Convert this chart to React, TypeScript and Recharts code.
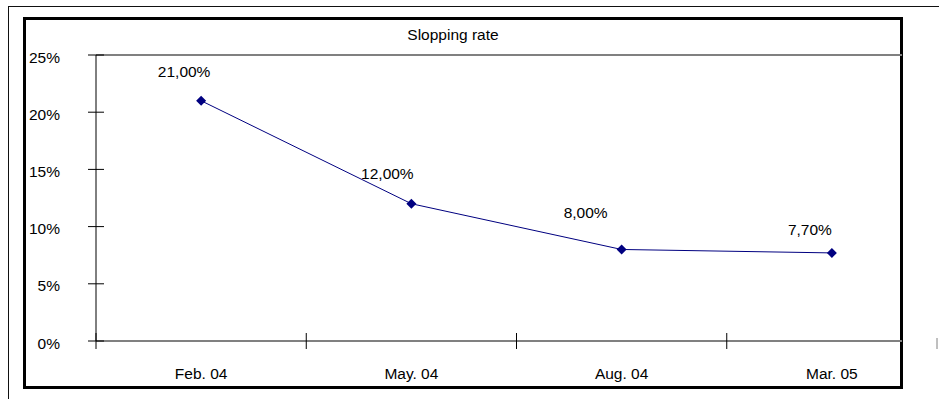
import { LineChart, Line, XAxis, YAxis, ReferenceLine, LabelList } from "recharts";

const categories = ["Feb. 04", "May. 04", "Aug. 04", "Mar. 05"];
const rates = [21, 12, 8, 7.7];
const yTicks = [0, 5, 10, 15, 20, 25];
const xTicks = [-0.5, 0, 0.5, 1, 1.5, 2, 2.5, 3, 3.5];

// label nudges (dx, dy) relative to each point, Excel-style placement
const labelOffsets = [
  [-17, -28],
  [-24, -29],
  [-36, -36],
  [-22, -22],
];

const FONT = "'Liberation Sans', Arial, sans-serif";
const FONT_SIZE = 15.5;
const NAVY = "#000080";

const data = rates.map((rate, idx) => ({ idx, name: categories[idx], rate }));

function formatRate(v: number): string {
  return v.toFixed(2).replace(".", ",") + "%";
}

function Diamond(props: any) {
  const { cx, cy } = props;
  if (cx == null || cy == null) return null;
  const r = 5;
  return (
    <polygon
      points={`${cx},${cy - r} ${cx + r},${cy} ${cx},${cy + r} ${cx - r},${cy}`}
      fill={NAVY}
    />
  );
}

function PointLabel(props: any) {
  const { x, y, value, index } = props;
  const [dx, dy] = labelOffsets[index] || [0, -20];
  return (
    <text
      x={x + dx}
      y={y + dy}
      textAnchor="middle"
      dominantBaseline="middle"
      fontFamily={FONT}
      fontSize={FONT_SIZE}
      fill="#000"
    >
      {formatRate(Number(value))}
    </text>
  );
}

function YTick(props: any) {
  const { x, y, payload } = props;
  return (
    <g>
      <line x1={x - 8} x2={x + 8} y1={y} y2={y} stroke="#000" strokeWidth={1} />
      <text
        x={x - 36}
        y={y + 3.5}
        textAnchor="end"
        dominantBaseline="middle"
        fontFamily={FONT}
        fontSize={FONT_SIZE}
        fill="#000"
      >
        {payload.value}%
      </text>
    </g>
  );
}

function XTick(props: any) {
  const { x, y, payload } = props;
  const v = payload.value;
  if (!Number.isInteger(v)) {
    const outside = v > categories.length - 1;
    return (
      <line
        x1={x}
        x2={x}
        y1={outside ? y - 3 : y - 8}
        y2={y + 8}
        stroke={outside ? "#808080" : "#000"}
        strokeWidth={1}
      />
    );
  }
  return (
    <text
      x={x}
      y={y + 34}
      textAnchor="middle"
      dominantBaseline="middle"
      fontFamily={FONT}
      fontSize={FONT_SIZE}
      fill="#000"
    >
      {categories[v]}
    </text>
  );
}

export default function App() {
  return (
    <div style={{ position: "absolute", left: 0, top: 0, width: 939, height: 399, background: "#fff", overflow: "hidden" }}>
      <div
        style={{
          position: "absolute",
          left: 8,
          top: 6,
          width: 931,
          height: 393,
          borderTop: "1px solid #111",
          borderLeft: "1px solid #111",
        }}
      />
      <div
        style={{
          position: "absolute",
          left: 23,
          top: 17,
          width: 880,
          height: 372,
          boxSizing: "border-box",
          border: "3px solid #000",
        }}
      />
      <div
        style={{
          position: "absolute",
          left: 353,
          top: 26,
          width: 200,
          textAlign: "center",
          fontFamily: FONT,
          fontSize: FONT_SIZE,
          lineHeight: "18px",
          color: "#000",
        }}
      >
        Slopping rate
      </div>
      <div style={{ position: "absolute", left: 0, top: 0 }}>
        <LineChart width={939} height={399} data={data} margin={{ top: 55, right: 37, bottom: 0, left: 0 }}>
          <XAxis
            type="number"
            dataKey="idx"
            domain={[-0.5, 3.3335]}
            allowDataOverflow
            ticks={xTicks}
            interval={0}
            height={58}
            tickSize={0}
            tickMargin={0}
            tickLine={false}
            axisLine={{ stroke: "#808080", strokeWidth: 2 }}
            tick={<XTick />}
          />
          <YAxis
            type="number"
            domain={[0, 25]}
            ticks={yTicks}
            interval={0}
            width={96}
            tickSize={0}
            tickMargin={0}
            tickLine={false}
            axisLine={{ stroke: "#000", strokeWidth: 1 }}
            tick={<YTick />}
          />
          <ReferenceLine y={25} stroke="#808080" strokeWidth={2} />
          <Line
            type="linear"
            dataKey="rate"
            stroke={NAVY}
            strokeWidth={1}
            dot={<Diamond />}
            activeDot={false}
            isAnimationActive={false}
          >
            <LabelList dataKey="rate" content={<PointLabel />} />
          </Line>
        </LineChart>
      </div>
    </div>
  );
}
